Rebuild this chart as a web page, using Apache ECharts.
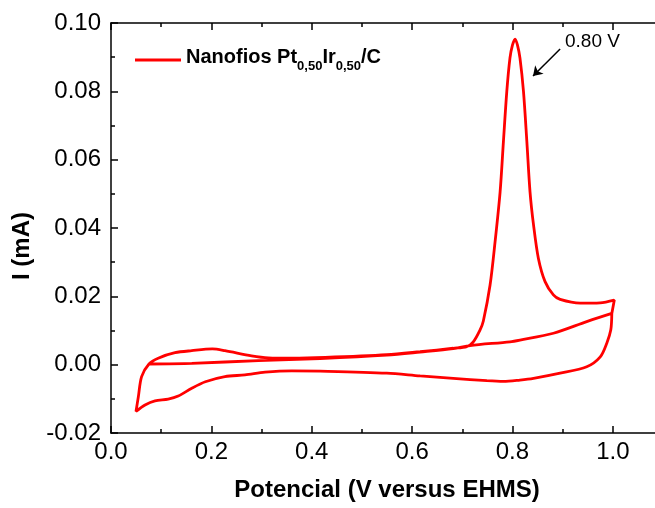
<!DOCTYPE html>
<html>
<head>
<meta charset="utf-8">
<script src="https://cdn.jsdelivr.net/npm/echarts@6/dist/echarts.min.js"></script>
<style>html,body{margin:0;padding:0;background:#fff;}#c{width:655px;height:508px;}</style>
</head>
<body>
<div id="c"></div>
<script>
// Potential (V) and current (mA), in sweep order
var potential = [
  0.0757, 0.161, 0.2936, 0.4166, 0.5495, 0.616, 0.682, 0.7156, 0.795, 0.815, 0.8816, 0.948, 0.998,
  0.996, 0.988, 0.975, 0.948, 0.895, 0.842, 0.815, 0.782, 0.749, 0.682, 0.616, 0.5495, 0.4166, 0.360, 0.307, 0.267, 0.227, 0.188, 0.161, 0.134, 0.114, 0.0877, 0.0678, 0.0498,
  0.0545, 0.061, 0.0757, 0.094, 0.1276, 0.161, 0.202, 0.227, 0.280, 0.3136, 0.360, 0.4265, 0.5495, 0.616, 0.682, 0.709, 0.722, 0.7355, 0.742, 0.7554, 0.7654, 0.7754, 0.782, 0.7887, 0.795, 0.800, 0.8053, 0.810, 0.815, 0.822, 0.8287, 0.835, 0.842, 0.8517, 0.865, 0.8816, 0.895, 0.935, 0.9747, 1.003, 0.998
];
var current = [
  0.0002, 0.0004, 0.0012, 0.0018, 0.0028, 0.0037, 0.0047, 0.0056, 0.0067, 0.0072, 0.0092, 0.0126, 0.0150,
  0.0102, 0.0063, 0.0023, -0.0006, -0.0025, -0.0040, -0.0045, -0.0049, -0.0047, -0.0040, -0.0033, -0.0025, -0.0019, -0.0018, -0.0022, -0.0030, -0.0035, -0.0050, -0.0069, -0.0092, -0.0101, -0.0106, -0.0118, -0.0137,
  -0.0094, -0.0035, 0.0002, 0.0019, 0.0035, 0.0041, 0.0046, 0.0041, 0.0026, 0.0020, 0.0019, 0.0021, 0.0029, 0.0038, 0.0048, 0.0053, 0.0067, 0.0102, 0.0128, 0.0233, 0.0360, 0.0506, 0.0653, 0.0799, 0.0897, 0.0935, 0.0953, 0.0935, 0.0897, 0.0799, 0.0653, 0.0506, 0.0409, 0.0311, 0.0243, 0.0204, 0.0191, 0.0180, 0.0181, 0.0189, 0.0150
];
var xTickLabels = ['0.0', '0.2', '0.4', '0.6', '0.8', '1.0'];
var yTickLabels = ['-0.02', '0.00', '0.02', '0.04', '0.06', '0.08', '0.10'];
var seriesName = 'Nanofios Pt0,50Ir0,50/C';
var xTitle = 'Potencial (V versus EHMS)';
var yTitle = 'I (mA)';
var peakLabel = '0.80 V';
var arrowFrom = [0.895, 0.0924];
var arrowTo = [0.841, 0.0845];

var data = potential.map(function (v, i) { return [v, current[i]]; });
var FONT = 'Liberation Sans, Arial, sans-serif';
var black = '#000';

function xMajor(pos, labels) {
  return {
    type: 'value', position: pos, min: 0, max: 1.1, interval: 0.2,
    axisLine: { show: true, onZero: false, lineStyle: { color: black, width: 1.5 } },
    axisTick: { show: true, inside: true, length: 7, lineStyle: { color: black, width: 1.5 } },
    axisLabel: {
      show: labels, margin: 7, color: black, fontFamily: FONT, fontSize: 24,
      formatter: function (v) { var s = v.toFixed(1); return xTickLabels.indexOf(s) >= 0 && v < 1.05 ? s : ''; }
    },
    splitLine: { show: false },
    name: labels ? xTitle : '',
    nameLocation: 'middle', nameGap: 45,
    nameTextStyle: { color: black, fontFamily: FONT, fontSize: 24, fontWeight: 'bold' }
  };
}
function xMinor(pos) {
  return {
    type: 'value', position: pos, min: 0, max: 1.1, interval: 0.1,
    axisLine: { show: false, onZero: false },
    axisTick: { show: true, inside: true, length: 4, lineStyle: { color: black, width: 1.5 } },
    axisLabel: { show: false }, splitLine: { show: false }
  };
}

var chart = echarts.init(document.getElementById('c'), null, { renderer: 'canvas' });
chart.setOption({
  animation: false,
  backgroundColor: '#fff',
  grid: { left: 111, top: 23, width: 552, height: 410, containLabel: false, outerBoundsMode: 'none' },
  xAxis: [xMajor('bottom', true), xMinor('bottom'), xMajor('top', false), xMinor('top')],
  yAxis: [{
    type: 'value', position: 'left', min: -0.02, max: 0.10, interval: 0.02,
    axisLine: { show: true, onZero: false, lineStyle: { color: black, width: 1.5 } },
    axisTick: { show: true, inside: true, length: 7, lineStyle: { color: black, width: 1.5 } },
    minorTick: { show: true, splitNumber: 2, length: 4, lineStyle: { color: black, width: 1.5 } },
    axisLabel: {
      margin: 10, color: black, fontFamily: FONT, fontSize: 24,
      formatter: function (v) { var s = v.toFixed(2); if (s === '-0.00') s = '0.00'; return yTickLabels.indexOf(s) >= 0 ? s : ''; }
    },
    splitLine: { show: false }
  }],
  legend: {
    show: true, left: 135, top: 47, padding: 0, orient: 'vertical',
    icon: 'rect', itemWidth: 46, itemHeight: 3, itemGap: 0,
    data: [seriesName],
    formatter: function () { return '{b|Nanofios Pt}{s|0,50}{b|Ir}{s|0,50}{b|/C}'; },
    textStyle: {
      color: black, fontFamily: FONT, fontWeight: 'bold', fontSize: 20,
      rich: {
        b: { fontFamily: FONT, fontWeight: 'bold', fontSize: 20, color: black, lineHeight: 26, verticalAlign: 'top' },
        s: { fontFamily: FONT, fontWeight: 'bold', fontSize: 13, color: black, lineHeight: 26, verticalAlign: 'bottom' }
      }
    }
  },
  graphic: [{
    type: 'text', left: 565, top: 32,
    style: { text: peakLabel, fill: black, font: '19px ' + FONT }
  }, {
    type: 'text', x: 22, y: 246, rotation: Math.PI / 2,
    style: { text: yTitle, fill: black, font: 'bold 24px ' + FONT, align: 'center', verticalAlign: 'middle' }
  }],
  series: [{
    name: seriesName, type: 'line', data: data, xAxisIndex: 0, yAxisIndex: 0,
    showSymbol: false, smooth: 0.3, clip: false,
    lineStyle: { color: '#ff0000', width: 2.8 }, itemStyle: { color: '#ff0000' },
    markLine: {
      silent: true, symbol: ['none', 'arrow'], symbolSize: 9, animation: false,
      label: { show: false },
      lineStyle: { color: black, width: 1.5, type: 'solid' },
      data: [[{ coord: arrowFrom }, { coord: arrowTo }]]
    }
  }]
});
</script>
</body>
</html>
